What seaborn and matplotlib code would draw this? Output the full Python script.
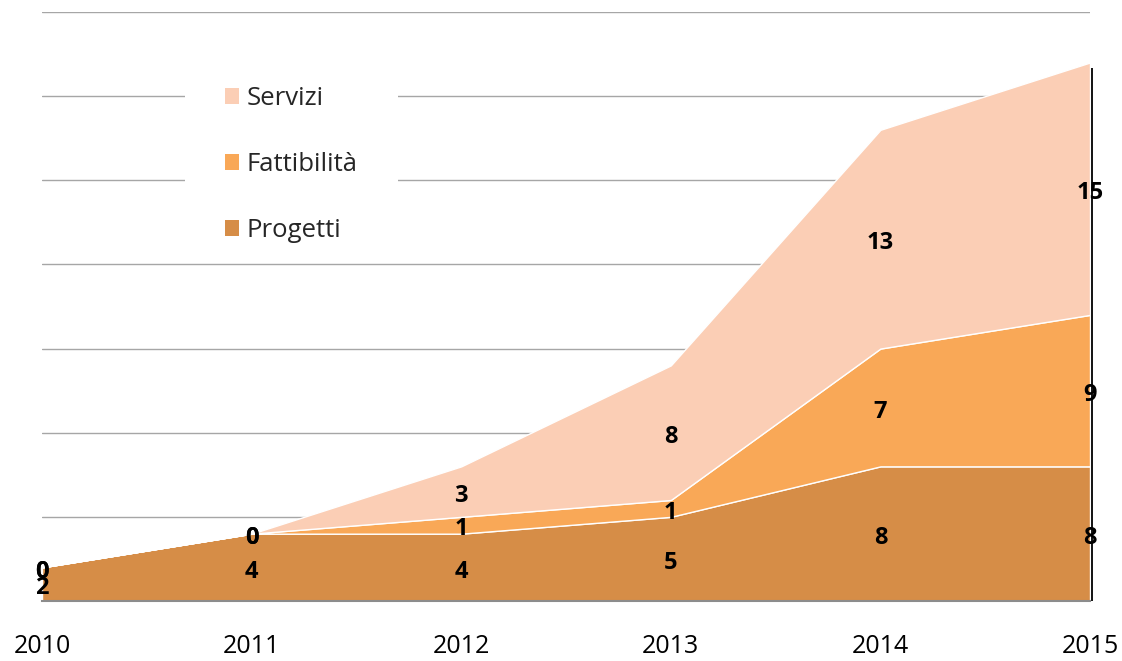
import numpy as np
import matplotlib
matplotlib.use("Agg")
import matplotlib.pyplot as plt
from matplotlib.patches import Rectangle, Patch
import seaborn as sns

years = [2010, 2011, 2012, 2013, 2014, 2015]
progetti = [2, 4, 4, 5, 8, 8]
fattibilita = [0, 0, 1, 1, 7, 9]
servizi = [0, 0, 3, 8, 13, 15]
series_names = ["Progetti", "Fattibilità", "Servizi"]
colors = ["#D68D47", "#F9A857", "#FBCEB5"]

sns.set_theme(style="white")
plt.rcParams['font.family'] = ['Open Sans', 'DejaVu Sans']

fig = plt.figure(figsize=(11.22, 6.61), dpi=100)
ax = fig.add_axes([42/1122, 1-601/661, (1090-42)/1122, (601-12)/661])

series = [progetti, fattibilita, servizi]
ax.stackplot(years, *series, colors=colors, edgecolor="white", linewidth=1, zorder=2)

ax.set_xlim(years[0], years[-1])
ax.set_ylim(0, 35)
ax.set_yticks(np.arange(0, 36, 5))
ax.set_yticklabels([])
ax.yaxis.grid(True, color="#A6A6A6", linewidth=1)
ax.xaxis.grid(False)
ax.set_axisbelow(True)
for s in ["left", "top", "right"]:
    ax.spines[s].set_visible(False)
ax.spines["bottom"].set_color("#8C8C8C")
ax.spines["bottom"].set_linewidth(1.5)
ax.spines["bottom"].set_zorder(3)
ax.tick_params(axis="y", length=0)
ax.set_xticks(years)
ax.set_xticklabels([str(y) for y in years], fontsize=18, color="black")
ax.tick_params(axis="x", length=0, pad=24)

# right drop line
total = np.array(progetti) + np.array(fattibilita) + np.array(servizi)
ax.vlines(years[-1] + 0.01, 0, total[-1] - 0.3, color="black", linewidth=1.3,
          clip_on=False, zorder=3)

# data labels at middle of bands
base = np.zeros(len(years))
for vals in series:
    v = np.array(vals, dtype=float)
    for x, b, val in zip(years, base, v):
        ax.text(x, b + val / 2 - 0.25, f"{int(val)}", ha="center", va="center",
                fontsize=17, fontweight="bold", color="black", zorder=5)
    base = base + v

# white box behind legend interrupting gridlines
ax.add_patch(Rectangle((185/1122, 1-250/661), (398-185)/1122, (250-75)/661,
                       transform=fig.transFigure, facecolor="white",
                       edgecolor="none", zorder=1, clip_on=False))

handles = [Patch(facecolor=c, edgecolor="none") for c in colors[::-1]]
leg = ax.legend(handles, series_names[::-1], loc="upper left",
                bbox_to_anchor=(225/1122, 1-86/661), bbox_transform=fig.transFigure,
                frameon=False, fontsize=18.5, handlelength=0.55, handleheight=0.55,
                handletextpad=0.3, labelspacing=1.6, borderpad=0, borderaxespad=0)
leg.set_zorder(6)

fig.savefig("out.png", dpi=100)
